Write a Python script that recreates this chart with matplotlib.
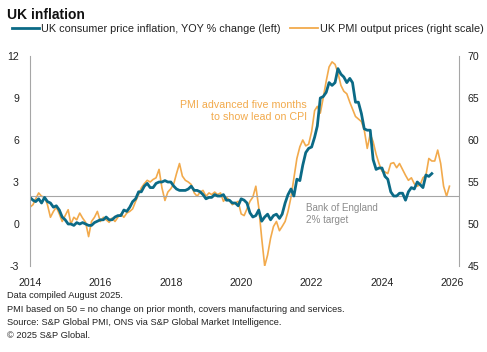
import pandas as pd
import matplotlib.pyplot as plt
import matplotlib.dates as mdates

plt.rcParams['font.family'] = ['Liberation Sans', 'DejaVu Sans']
plt.rcParams['axes.unicode_minus'] = False

# === Datos ===
# IPC Reino Unido, % interanual, ene-2014 .. jun-2025
cpi = [1.9, 1.7, 1.6, 1.8, 1.5, 1.9, 1.6, 1.5, 1.2, 1.3, 1.0, 0.5,
       0.3, 0.0, 0.0, -0.1, 0.1, 0.0, 0.1, 0.0, -0.1, -0.1, 0.1, 0.2,
       0.3, 0.3, 0.5, 0.3, 0.3, 0.5, 0.6, 0.6, 1.0, 0.9, 1.2, 1.6,
       1.8, 2.3, 2.3, 2.7, 2.9, 2.6, 2.6, 2.9, 3.0, 3.0, 3.1, 3.0,
       3.0, 2.7, 2.5, 2.4, 2.4, 2.4, 2.5, 2.7, 2.4, 2.4, 2.3, 2.1,
       1.8, 1.9, 1.9, 2.1, 2.0, 2.0, 2.1, 1.7, 1.7, 1.5, 1.5, 1.3,
       1.8, 1.7, 1.5, 0.8, 0.5, 0.6, 1.0, 0.2, 0.5, 0.7, 0.3, 0.6,
       0.7, 0.4, 0.7, 1.5, 2.1, 2.5, 2.0, 3.2, 3.1, 4.2, 5.1, 5.4,
       5.5, 6.2, 7.0, 9.0, 9.1, 9.4, 10.1, 9.9, 10.1, 11.1, 10.7, 10.5,
       10.1, 10.4, 10.1, 8.7, 8.7, 7.9, 6.8, 6.7, 6.7, 4.6, 3.9, 4.0,
       4.0, 3.4, 3.2, 2.3, 2.0, 2.0, 2.2, 2.2, 1.7, 2.3, 2.6, 2.5,
       3.0, 2.8, 2.6, 3.5, 3.4, 3.6]

# PMI precios de venta (adelantado 5 meses), ene-2014 .. dic-2025
pmi = [52.0, 52.3, 53.0, 53.7, 53.3, 53.2, 52.3, 50.8, 51.5, 52.0, 51.2, 50.3,
       51.0, 51.7, 50.0, 50.8, 50.5, 51.3, 50.7, 50.2, 48.5, 50.3, 50.8, 51.5,
       50.3, 50.8, 50.5, 50.2, 50.7, 50.3, 50.8, 51.2, 50.8, 51.3, 51.5, 51.8,
       52.7, 53.5, 54.3, 54.8, 55.2, 55.0, 55.3, 55.5, 56.5, 54.3, 52.8, 53.8,
       54.2, 54.8, 56.0, 57.2, 55.7, 55.2, 55.0, 54.7, 53.7, 53.3, 53.8, 54.0,
       53.3, 53.7, 53.5, 53.8, 53.5, 53.7, 52.7, 53.2, 52.8, 52.3, 52.5, 52.7,
       51.2, 51.0, 51.8, 52.7, 53.2, 54.5, 52.0, 48.3, 45.0, 46.3, 48.3, 49.7,
       50.3, 49.2, 49.7, 50.3, 51.5, 53.2, 55.5, 57.8, 59.2, 60.0, 59.3, 59.5,
       61.0, 63.5, 64.0, 63.2, 65.0, 67.0, 68.7, 69.3, 69.0, 68.0, 66.5, 65.8,
       65.5, 64.5, 63.7, 62.8, 62.5, 62.2, 61.2, 59.0, 60.7, 59.8, 58.3, 57.2,
       56.3, 56.2, 56.0, 57.2, 57.3, 56.7, 57.2, 56.5, 55.8, 55.2, 55.5, 54.8,
       54.5, 54.7, 55.5, 55.8, 57.8, 57.5, 57.5, 58.8, 57.2, 54.5, 53.3, 54.5]

fechas_cpi = pd.date_range("2014-01-01", periods=len(cpi), freq="MS")
fechas_pmi = pd.date_range("2014-01-01", periods=len(pmi), freq="MS")

left_ticks = [-3, 0, 3, 6, 9, 12]
right_ticks = [45, 50, 55, 60, 65, 70]
x_years = [2014, 2016, 2018, 2020, 2022, 2024, 2026]

teal = "#0b6a86"
naranja = "#f2aa4c"
gris = "#a6a6a6"
texto = "#222222"

# === Figura ===
fig = plt.figure(figsize=(4.87, 3.52), dpi=100)
ax = fig.add_axes([30 / 487, 86 / 352, 429 / 487, 210 / 352])
ax2 = ax.twinx()

ax2.plot(fechas_pmi, pmi, color=naranja, lw=1.2)
ax.plot(fechas_cpi, cpi, color=teal, lw=2.0)
ax.axhline(2, color=gris, lw=0.8, zorder=1)

ax.set_zorder(ax2.get_zorder() + 1)
ax.patch.set_visible(False)

ax.set_ylim(-3, 12)
ax2.set_ylim(45, 70)
ax.set_yticks(left_ticks)
ax2.set_yticks(right_ticks)
ax.set_xlim(mdates.date2num(pd.Timestamp("2014-01-01")),
            mdates.date2num(pd.Timestamp("2026-03-10")))
ax.set_xticks([mdates.date2num(pd.Timestamp(f"{y}-01-01")) for y in x_years])
ax.set_xticklabels([str(y) for y in x_years])

for a in (ax, ax2):
    for s in a.spines.values():
        s.set_visible(False)
    a.tick_params(length=0, labelsize=7.6, colors=texto)
ax.spines["left"].set_visible(True)
ax.spines["left"].set_color(gris)
ax.spines["left"].set_linewidth(0.8)
ax2.spines["right"].set_visible(True)
ax2.spines["right"].set_color(gris)
ax2.spines["right"].set_linewidth(0.8)
ax.tick_params(axis="y", pad=8)
ax2.tick_params(axis="y", pad=6)
ax.tick_params(axis="x", pad=9)

# === Anotaciones ===
ax.text(mdates.date2num(pd.Timestamp("2021-11-15")), 8.1,
        "PMI advanced five months\nto show lead on CPI",
        color=naranja, fontsize=7.7, ha="right", va="center", linespacing=1.25)
ax.text(mdates.date2num(pd.Timestamp("2021-11-05")), 0.71,
        "Bank of England\n2% target",
        color="#8c8c8c", fontsize=7.1, ha="left", va="center", linespacing=1.25)

# === Título y leyenda ===
fig.text(7 / 487, 1 - 15 / 352, "UK inflation", fontsize=10, fontweight="bold",
         color="#111111", va="center", ha="left")
h1, = ax.plot([], [], color=teal, lw=2.0)
h2, = ax.plot([], [], color=naranja, lw=1.3)
fig.legend([h1, h2],
           ["UK consumer price inflation, YOY % change (left)",
            "UK PMI output prices (right scale)"],
           loc="center left", bbox_to_anchor=(12 / 487, 1 - 29 / 352),
           ncol=2, frameon=False, fontsize=7.8, handlelength=2.5,
           handletextpad=0.2, columnspacing=0.9, borderaxespad=0, borderpad=0,
           labelcolor=texto)

# === Notas ===
notas = ["Data compiled August 2025.",
         "PMI based on 50 = no change on prior month, covers manufacturing and services.",
         "Source: S&P Global PMI, ONS via S&P Global Market Intelligence.",
         "\u00a9 2025 S&P Global."]
for i, n in enumerate(notas):
    fig.text(7 / 487, 1 - (296 + 13.2 * i) / 352, n, fontsize=6.7,
             color=texto, va="center", ha="left")

fig.savefig("out.png", dpi=100)
